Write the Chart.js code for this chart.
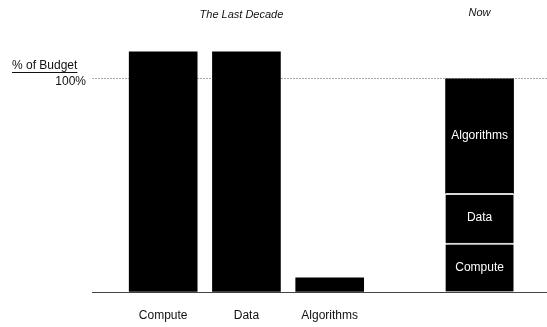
<!DOCTYPE html>
<html>
<head>
<meta charset="utf-8">
<script src="https://cdn.jsdelivr.net/npm/chart.js@4"></script>
<style>
  body { margin: 0; background: #fff; }
  #wrap { width: 547px; height: 327px; position: relative; }
</style>
</head>
<body>
<div id="wrap"><canvas id="myChart"></canvas></div>
<script>
// values, in % of budget
var decadeLabels = ["Compute", "Data", "Algorithms"];
var decadeSlots = [1, 2, 3];
var decadeBudget = [112.7, 112.7, 6.7];

var nowSlot = 4.8;
var nowParts = ["Compute", "Data", "Algorithms"];
var nowBudget = [23, 23.3, 53.7];

var periodTitles = ["The Last Decade", "Now"];
var periodSlots = [2, 4.8];
var yTicks = [0, 100];
var yAxisTitle = "% of Budget";

var FONT = '"Liberation Sans", Arial, sans-serif';

const datasets = [
	{
		label: "The Last Decade",
		data: decadeSlots.map(function (s, i) {
			return { x: s, y: decadeBudget[i] };
		}),
		backgroundColor: "#000",
		borderWidth: 0,
		barThickness: 68,
	},
];
for (let i = 0; i < nowParts.length; i++) {
	datasets.push({
		label: nowParts[i],
		data: [{ x: nowSlot, y: nowBudget[i] }],
		backgroundColor: "#000",
		borderColor: "#d8d8d8",
		borderWidth: i < nowParts.length - 1 ? { top: 2 } : 0,
		borderSkipped: "bottom",
		barThickness: 68,
	});
}

// titles, axis caption and the labels inside the "Now" bar
const annotate = {
	id: "annotate",
	afterDatasetsDraw(chart) {
		const ctx = chart.ctx;
		const x = chart.scales.x;
		ctx.save();
		ctx.fillStyle = "#111";
		ctx.textAlign = "center";
		ctx.textBaseline = "middle";
		ctx.font = "italic 11px " + FONT;
		ctx.fillText(periodTitles[0], x.getPixelForValue(periodSlots[0]) - 5, 15);
		ctx.fillText(periodTitles[1], x.getPixelForValue(periodSlots[1]), 13);

		ctx.font = "12px " + FONT;
		ctx.textAlign = "left";
		ctx.textBaseline = "alphabetic";
		ctx.fillText(yAxisTitle, 12, 69);
		const w = ctx.measureText(yAxisTitle).width;
		ctx.strokeStyle = "#111";
		ctx.lineWidth = 1;
		ctx.beginPath();
		ctx.moveTo(12, 72.5);
		ctx.lineTo(12 + w, 72.5);
		ctx.stroke();

		ctx.fillStyle = "#fff";
		ctx.textAlign = "center";
		ctx.textBaseline = "middle";
		for (let i = 0; i < nowParts.length; i++) {
			const bar = chart.getDatasetMeta(i + 1).data[0];
			ctx.fillText(nowParts[i], bar.x, (bar.y + bar.base) / 2);
		}
		ctx.restore();
	},
};

const config = {
	type: "bar",
	data: { datasets: datasets },
	plugins: [annotate],
	options: {
		responsive: true,
		maintainAspectRatio: false,
		animation: false,
		layout: { padding: { top: 15, right: 0, left: 0, bottom: 0 } },
		plugins: {
			legend: { display: false },
			tooltip: { enabled: false },
		},
		scales: {
			x: {
				type: "linear",
				stacked: true,
				offset: false,
				min: 0.145,
				max: 5.61,
				grid: { display: false, drawTicks: false, offset: false },
				border: { display: true, color: "#444", width: 1 },
				afterBuildTicks: function (scale) {
					scale.ticks = decadeSlots.map(function (s) {
						return { value: s };
					});
				},
				afterFit: function (scale) {
					scale.height = 35;
				},
				ticks: {
					autoSkip: false,
					maxRotation: 0,
					padding: 16,
					color: "#111",
					font: { family: FONT, size: 12 },
					callback: function (value, index) {
						return decadeLabels[index];
					},
				},
			},
			y: {
				stacked: true,
				min: 0,
				max: 130,
				border: { display: false, dash: [2, 1] },
				grid: {
					drawTicks: false,
					lineWidth: 1,
					color: function (c) {
						return c.tick && c.tick.value === 100 ? "#aaa" : "rgba(0,0,0,0)";
					},
				},
				afterBuildTicks: function (scale) {
					scale.ticks = yTicks.map(function (v) {
						return { value: v };
					});
				},
				afterFit: function (scale) {
					scale.width = 92;
				},
				ticks: {
					padding: 6,
					labelOffset: 3,
					color: "#111",
					font: { family: FONT, size: 12 },
					callback: function (value) {
						return value === 100 ? "100%" : "";
					},
				},
			},
		},
	},
};

const myChart = new Chart(document.getElementById("myChart"), config);
</script>
</body>
</html>
